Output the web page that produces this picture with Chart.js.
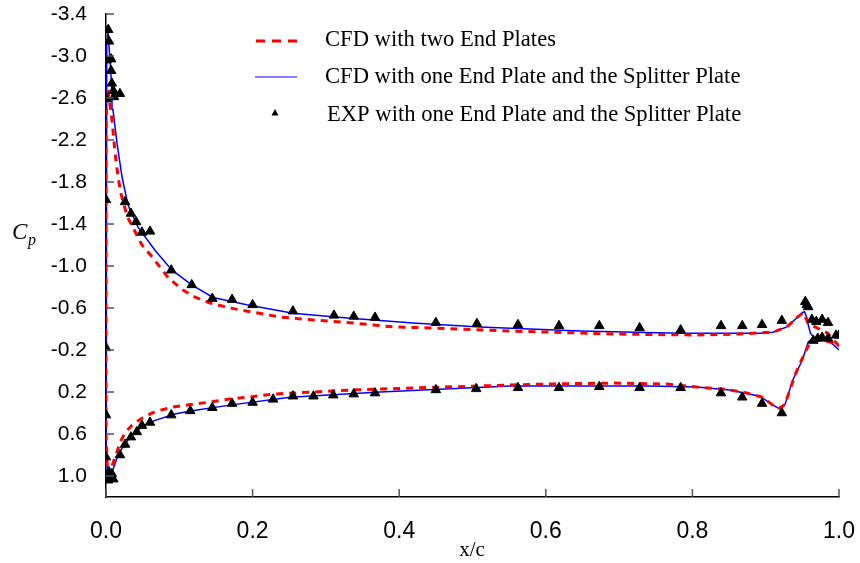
<!DOCTYPE html>
<html><head><meta charset="utf-8">
<script src="https://cdn.jsdelivr.net/npm/chart.js@4"></script>
<style>html,body{margin:0;padding:0;background:#fff}canvas{display:block}</style>
</head><body>
<canvas id="c" width="860" height="563"></canvas>
<script>
// ---- tick labels ----
const xTicks = [0.0, 0.2, 0.4, 0.6, 0.8, 1.0];
const yTicks = [-3.4, -3.0, -2.6, -2.2, -1.8, -1.4, -1.0, -0.6, -0.2, 0.2, 0.6, 1.0];
const seriesNames = [
  'CFD with two End Plates',
  'CFD with one End Plate and the Splitter Plate',
  'EXP with one End Plate and the Splitter Plate'
];

// ---- CFD with two End Plates (path: upper surface TE -> LE, then lower surface LE -> TE) ----
const cfdTwoX = [1.0, 0.995, 0.984, 0.970, 0.958, 0.955, 0.951, 0.943, 0.929, 0.910, 0.865, 0.806, 0.692, 0.602, 0.551, 0.446, 0.392, 0.337, 0.282, 0.237, 0.199, 0.169, 0.142, 0.121, 0.105, 0.085, 0.063, 0.049, 0.035, 0.029, 0.020, 0.0164, 0.0123, 0.0082, 0.0027, 0.001, 0.0, 0.0, 0.002, 0.005, 0.0095, 0.015, 0.019, 0.026, 0.0355, 0.049, 0.063, 0.076, 0.094, 0.115, 0.142, 0.169, 0.196, 0.228, 0.255, 0.337, 0.419, 0.551, 0.602, 0.692, 0.765, 0.806, 0.842, 0.869, 0.895, 0.910, 0.919, 0.926, 0.933, 0.940, 0.947, 0.954, 0.960, 0.974, 0.988, 1.0];
const cfdTwoCp = [-0.238, -0.276, -0.362, -0.41, -0.45, -0.50, -0.555, -0.51, -0.42, -0.37, -0.352, -0.343, -0.352, -0.371, -0.38, -0.41, -0.42, -0.457, -0.486, -0.514, -0.562, -0.60, -0.648, -0.705, -0.772, -0.886, -1.086, -1.20, -1.39, -1.47, -1.70, -1.85, -2.08, -2.39, -2.68, -2.62, -2.3, 0.6, 0.95, 0.99, 0.88, 0.77, 0.68, 0.59, 0.515, 0.45, 0.40, 0.37, 0.34, 0.32, 0.296, 0.267, 0.248, 0.22, 0.21, 0.18, 0.162, 0.134, 0.124, 0.115, 0.124, 0.153, 0.172, 0.20, 0.248, 0.325, 0.353, 0.32, 0.181, 0.038, -0.076, -0.18, -0.267, -0.295, -0.276, -0.238];

// ---- CFD with one End Plate and the Splitter Plate ----
const cfdOneX = [1.0, 0.990, 0.978, 0.966, 0.961, 0.958, 0.956, 0.953, 0.950, 0.943, 0.929, 0.910, 0.892, 0.783, 0.647, 0.510, 0.419, 0.329, 0.255, 0.192, 0.146, 0.117, 0.090, 0.0668, 0.0437, 0.030, 0.0218, 0.015, 0.0095, 0.0082, 0.0055, 0.0027, 0.001, 0.0, 0.0, 0.0005, 0.0027, 0.0095, 0.0164, 0.026, 0.0355, 0.049, 0.067, 0.094, 0.115, 0.169, 0.251, 0.374, 0.551, 0.647, 0.738, 0.806, 0.851, 0.892, 0.910, 0.919, 0.926, 0.937, 0.950, 0.958, 0.965, 0.978, 0.990, 1.0];
const cfdOneCp = [-0.20, -0.267, -0.314, -0.316, -0.36, -0.44, -0.51, -0.565, -0.555, -0.51, -0.42, -0.37, -0.36, -0.36, -0.38, -0.42, -0.457, -0.505, -0.55, -0.63, -0.70, -0.82, -0.96, -1.15, -1.37, -1.58, -1.85, -2.17, -2.49, -2.65, -2.96, -3.23, -3.1, -2.0, 0.0, 0.8, 1.01, 0.94, 0.80, 0.69, 0.61, 0.53, 0.47, 0.41, 0.38, 0.325, 0.25, 0.20, 0.143, 0.143, 0.143, 0.153, 0.18, 0.24, 0.325, 0.36, 0.325, 0.086, -0.104, -0.276, -0.314, -0.314, -0.267, -0.20];

// ---- EXP with one End Plate and the Splitter Plate ----
const expX = [0.003, 0.004, 0.001, 0.007, 0.007, 0.008, 0.010, 0.011, 0.019, 0.001, 0.000, 0.026, 0.034, 0.041, 0.049, 0.060, 0.089, 0.117, 0.145, 0.172, 0.200, 0.255, 0.311, 0.338, 0.367, 0.450, 0.506, 0.562, 0.618, 0.673, 0.728, 0.784, 0.839, 0.868, 0.895, 0.922, 0.954, 0.956, 0.958, 0.963, 0.969, 0.977, 0.985,
  0.000, 0.000, 0.000, 0.003, 0.005, 0.008, 0.004, 0.010, 0.019, 0.026, 0.034, 0.042, 0.049, 0.060, 0.089, 0.115, 0.145, 0.172, 0.200, 0.228, 0.255, 0.283, 0.310, 0.338, 0.367, 0.450, 0.505, 0.562, 0.618, 0.673, 0.728, 0.784, 0.839, 0.868, 0.895, 0.922, 0.965, 0.971, 0.977, 0.985, 0.996, 1.000];
const expCp = [-3.25, -3.14, -2.96, -2.97, -2.86, -2.74, -2.67, -2.61, -2.64, -2.59, -1.63, -1.61, -1.50, -1.42, -1.32, -1.33, -0.96, -0.82, -0.69, -0.68, -0.63, -0.57, -0.53, -0.52, -0.51, -0.46, -0.45, -0.44, -0.43, -0.43, -0.41, -0.39, -0.43, -0.43, -0.44, -0.48, -0.66, -0.63, -0.61, -0.49, -0.47, -0.49, -0.46,
  -0.22, 0.42, 0.82, 1.04, 1.01, 0.98, 0.96, 1.03, 0.80, 0.70, 0.63, 0.58, 0.52, 0.49, 0.42, 0.38, 0.35, 0.31, 0.30, 0.27, 0.24, 0.24, 0.23, 0.22, 0.21, 0.18, 0.17, 0.16, 0.16, 0.15, 0.16, 0.16, 0.21, 0.25, 0.31, 0.40, -0.29, -0.31, -0.32, -0.31, -0.34, -0.34];

const toPts = (xs, ys) => xs.map((x, i) => ({x: x, y: ys[i]}));

const decor = {
  id: 'decor',
  afterDraw(chart) {
    const ctx = chart.ctx, xs = chart.scales.x, ys = chart.scales.y;
    const ca = chart.chartArea;
    ctx.save();
    // inner tick marks
    ctx.strokeStyle = '#555'; ctx.lineWidth = 1.5;
    ys.ticks.forEach(t => {
      const y = ys.getPixelForValue(t.value);
      ctx.beginPath(); ctx.moveTo(ca.left, y); ctx.lineTo(ca.left + 8, y); ctx.stroke();
    });
    xs.ticks.forEach(t => {
      const x = xs.getPixelForValue(t.value);
      ctx.beginPath(); ctx.moveTo(x, ca.bottom); ctx.lineTo(x, ca.bottom - 8); ctx.stroke();
    });
    // axis titles
    ctx.fillStyle = '#000';
    ctx.textAlign = 'left'; ctx.textBaseline = 'alphabetic';
    ctx.font = 'italic 23px "Liberation Serif"';
    ctx.fillText('C', 12, 239);
    ctx.font = 'italic 16px "Liberation Serif"';
    ctx.fillText('p', 28, 245);
    ctx.font = '21px "Liberation Serif"';
    ctx.textAlign = 'center';
    ctx.fillText('x/c', 472, 556);
    // legend
    ctx.textAlign = 'left';
    ctx.font = '22.6px "Liberation Serif"';
    ctx.strokeStyle = '#ff0000'; ctx.lineWidth = 3; ctx.setLineDash([9, 7]);
    ctx.beginPath(); ctx.moveTo(256, 41); ctx.lineTo(298, 41); ctx.stroke();
    ctx.setLineDash([]);
    ctx.fillText(seriesNames[0], 325, 46);
    ctx.strokeStyle = '#5a5aff'; ctx.lineWidth = 1.5;
    ctx.beginPath(); ctx.moveTo(255, 77); ctx.lineTo(297, 77); ctx.stroke();
    ctx.fillText(seriesNames[1], 325, 83);
    ctx.fillStyle = '#000';
    ctx.beginPath(); ctx.moveTo(275, 109); ctx.lineTo(278.5, 115.5); ctx.lineTo(271.5, 115.5); ctx.closePath(); ctx.fill();
    ctx.fillText(seriesNames[2], 327, 121);
    ctx.restore();
  }
};

new Chart(document.getElementById('c'), {
  type: 'scatter',
  data: {
    datasets: [
      { label: seriesNames[2], data: toPts(expX, expCp), pointStyle: 'triangle', pointRadius: 5.5,
        backgroundColor: '#000', borderColor: '#000', borderWidth: 1, showLine: false, order: 0 },
      { label: seriesNames[0], data: toPts(cfdTwoX, cfdTwoCp), showLine: true, pointRadius: 0,
        borderColor: '#ff0000', borderWidth: 3, borderDash: [7, 6], tension: 0, order: 1 },
      { label: seriesNames[1], data: toPts(cfdOneX, cfdOneCp), showLine: true, pointRadius: 0,
        borderColor: '#0000ff', borderWidth: 1.5, tension: 0, order: 2 }
    ]
  },
  options: {
    responsive: false, animation: false, devicePixelRatio: 1,
    layout: { padding: { top: 14, right: 21, left: 0, bottom: 0 } },
    plugins: { legend: { display: false }, tooltip: { enabled: false } },
    scales: {
      x: {
        type: 'linear', min: 0, max: 1,
        afterBuildTicks: s => { s.ticks = xTicks.map(v => ({value: v})); },
        afterFit: s => { s.height = 66; s.paddingLeft = 0; s.paddingRight = 0; },
        grid: { display: true, drawOnChartArea: false, drawTicks: false },
        border: { display: true, color: '#000', width: 1.5 },
        ticks: { color: '#000', padding: 21, font: { family: '"Liberation Sans"', size: 23 },
                 callback: v => Number(v).toFixed(1), maxRotation: 0 }
      },
      y: {
        type: 'linear', reverse: true, min: -3.4, max: 1.2,
        afterBuildTicks: s => { s.ticks = yTicks.map(v => ({value: v})); },
        afterFit: s => { s.width = 106; s.paddingTop = 0; s.paddingBottom = 0; },
        grid: { display: true, drawOnChartArea: false, drawTicks: false },
        border: { display: true, color: '#000', width: 1.5 },
        ticks: { color: '#000', padding: 19, font: { family: '"Liberation Sans"', size: 21 },
                 callback: v => Number(v).toFixed(1) }
      }
    }
  },
  plugins: [decor]
});
</script>
</body></html>
